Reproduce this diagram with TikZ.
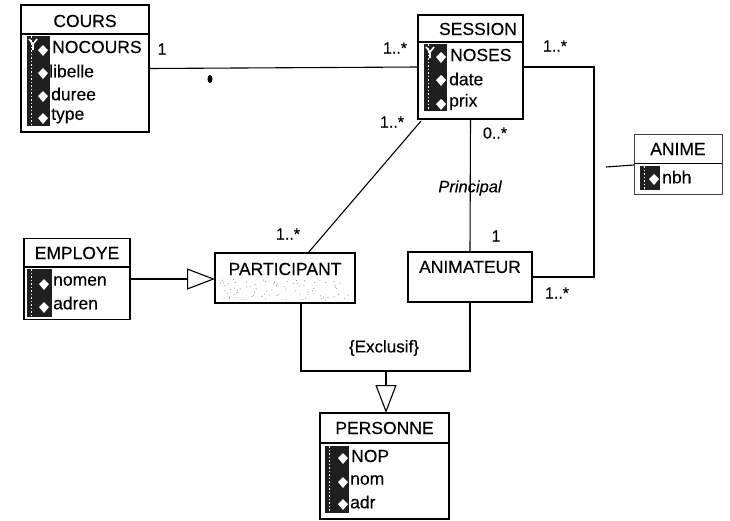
\documentclass[tikz,border=0pt]{standalone}
\usepackage{fontspec}
\setmainfont{Liberation Sans}[FakeBold=0.25]
\usetikzlibrary{calc,arrows.meta}
\tikzset{
  box/.style={draw=black,line width=1.2pt,inner sep=0pt,outer sep=0pt,fill=white},
  thinbox/.style={box,draw=black!75,line width=0.8pt},
  title/.style={inner sep=0pt,font=\fontsize{17.5}{19}\selectfont},
  attr/.style={inner sep=0pt,anchor=west,font=\fontsize{17.5}{19}\selectfont},
  mult/.style={inner sep=0pt,font=\fontsize{16}{18}\selectfont},
  link/.style={draw=black,line width=1.1pt},
  inherit/.style={link,-{Triangle[open,length=28pt,width=21pt,fill=white]}},
  iconbg/.style={fill=black!88},
  keymark/.style={fill=white,draw=none},
  keyarm/.style={draw=white,line width=1.6pt}
}
\newcommand{\iconstrip}[6]{% x1 y1 x2 y2, mark x, list of mark y
  \fill[iconbg] (#1,#2) rectangle (#3,#4);
  \draw[white,line width=0.7pt,dash pattern=on 1.5pt off 2pt] ({#1+4},#2) -- ({#1+4},#4);
  \foreach \my in {#6} {
    \fill[keymark] (#5,\my-5) -- (#5+5,\my) -- (#5,\my+6) -- (#5-5,\my) -- cycle;
  }
}
\begin{document}
\begin{tikzpicture}[x=1pt,y=-1pt]
\path[use as bounding box,fill=white] (0,0) rectangle (730,520);

% Class boxes
\node[box,minimum width=128pt,minimum height=127pt] (cours) at (85,68.5) {};
\node[box,minimum width=105pt,minimum height=104pt] (session) at (470.5,67) {};
\node[thinbox,minimum width=88pt,minimum height=60pt] (anime) at (678,164) {};
\node[box,minimum width=106pt,minimum height=81pt] (employe) at (77,279) {};
\node[box,minimum width=140pt,minimum height=50pt] (participant) at (285,278) {};
\node[box,minimum width=124pt,minimum height=50pt] (animateur) at (470,277) {};
\node[box,minimum width=129pt,minimum height=106pt] (personne) at (384.5,466) {};

% Stippling in PARTICIPANT
\pgfmathsetseed{7}
\foreach \i in {1,...,80} {
  \pgfmathsetmacro{\sx}{220+130*rnd}
  \pgfmathsetmacro{\sy}{279+21*rnd}
  \fill[black!50] (\sx,\sy) circle [radius=0.5pt];
}

% Header rules
\draw[link,line width=1.2pt] (cours.west |- 0,34) -- (cours.east |- 0,34);
\draw[link,line width=1.2pt] (session.west |- 0,42) -- (session.east |- 0,42);
\draw[link,line width=0.9pt] (anime.west |- 0,163) -- (anime.east |- 0,163);
\draw[link,line width=1.2pt] (employe.west |- 0,267) -- (employe.east |- 0,267);
\draw[link,line width=1.2pt] (personne.west |- 0,443) -- (personne.east |- 0,443);

% Icon strips
\iconstrip{27}{36}{50}{126}{43}{50,73,96,118}
\iconstrip{424}{44}{447}{111}{441}{57,80,104}
\iconstrip{640}{166}{660}{190}{654}{179}
\iconstrip{27}{269}{52}{317}{44}{284,307}
\iconstrip{325}{446}{349}{513}{343}{458,482,504}
\draw[keyarm] (29,39) -- (33,44) -- (37,39) (33,44) -- (33,50);
\draw[keyarm] (426,47) -- (430,52) -- (434,47) (430,52) -- (430,58);

% Titles
\node[title] (tcours) at (85,21) {COURS};
\node[title] (tsession) at (478,29) {SESSION};
\node[title] (tanime) at (678,149) {ANIME};
\node[title] (temploye) at (77,253) {EMPLOYE};
\node[title] (tparticipant) at (285,269) {PARTICIPANT};
\node[title] (tanimateur) at (470,267) {ANIMATEUR};
\node[title] (tpersonne) at (384.5,428) {PERSONNE};

% Attributes
\node[attr] (a1) at (52,47) {NOCOURS};
\node[attr] (a2) at (49,71) {libelle};
\node[attr] (a3) at (51,94) {duree};
\node[attr] (a4) at (51,116) {type};
\node[attr] (b1) at (450,55) {NOSES};
\node[attr] (b2) at (449,79) {date};
\node[attr] (b3) at (449,102) {prix};
\node[attr] (c1) at (662,177) {nbh};
\node[attr] (d1) at (53,281) {nomen};
\node[attr] (d2) at (53,303) {adren};
\node[attr] (e1) at (351,456) {NOP};
\node[attr] (e2) at (350,480) {nom};
\node[attr] (e3) at (350,502) {adr};

% Connectors
\draw[link] (cours.east) -- (session.west);
\coordinate (rightbus) at (594,170);
\draw[link] (session.east) -| (rightbus) |- (animateur.east);
\coordinate (animeend) at (606,167);
\draw[link] (animeend) -- (anime.west |- 0,165);
\draw[link] (session.south west) ++(3,2) -- ($(participant.north)+(23,0)$);
\draw[link] (session.south) -- (animateur.north);
\draw[inherit] (employe.east) -- (employe.east -| participant.west);
\coordinate (junction) at (386,371);
\draw[link] ($(participant.south)+(16,0)$) |- (junction) -| (animateur.south);
\draw[inherit] (junction) -- (junction |- personne.north);

% Small mark on the COURS-SESSION line
\fill[black] (210,79) ellipse [x radius=2.5pt,y radius=4pt];

% Labels
\node[mult] (m1) at (162,49) {1};
\node[mult] (m2) at (395,48) {1..*};
\node[mult] (m3) at (555,46) {1..*};
\node[mult] (m4) at (392,122) {1..*};
\node[mult] (m5) at (495,133) {0..*};
\node[mult,font=\fontsize{16.5}{18}\selectfont\itshape] (m6) at (470,188) {Principal};
\node[mult] (m7) at (496,236) {1};
\node[mult] (m8) at (288,234) {1..*};
\node[mult] (m9) at (557,293) {1..*};
\node[mult,font=\fontsize{17}{18}\selectfont] (m10) at (384,348) {\{Exclusif\}};
\end{tikzpicture}
\end{document}
